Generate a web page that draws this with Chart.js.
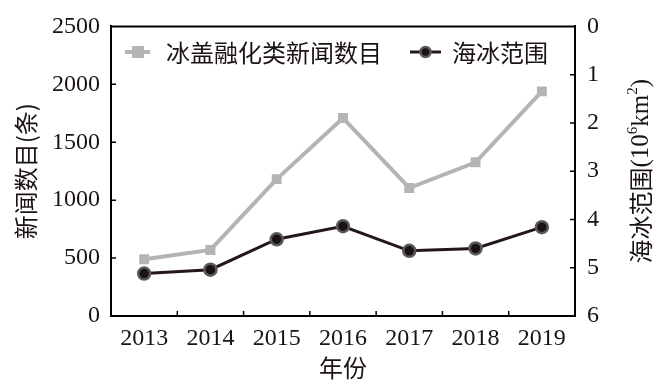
<!DOCTYPE html>
<html><head><meta charset="utf-8">
<script src="https://cdn.jsdelivr.net/npm/chart.js@4/dist/chart.umd.min.js"></script>
<style>html,body{margin:0;padding:0;background:#fff}#wrap{width:666px;height:388px}</style>
</head><body><div id="wrap"><canvas id="c" width="666" height="388"></canvas></div>
<script>
const years = ['2013','2014','2015','2016','2017','2018','2019'];
const newsCounts = [490, 570, 1182, 1709, 1105, 1327, 1939];
const seaIceExtent = [5.12, 5.04, 4.41, 4.14, 4.65, 4.60, 4.16];
const leftTicks = [0, 500, 1000, 1500, 2000, 2500];
const rightTicks = [0, 1, 2, 3, 4, 5, 6];
const newsLabel = '冰盖融化类新闻数目';
const iceLabel = '海冰范围';
const leftTitle = '新闻数目(条)';
const xTitle = '年份';

const NUM_FONT = '"Liberation Serif", "Times New Roman", serif';
const CJK_FONT = '"Noto Sans CJK SC", "Noto Sans", sans-serif';
const GRAY = '#b4b4b4';
const DARK = '#231815';
const TXT = '#1a1311';

const decor = {
  id: 'decor',
  afterDraw(chart) {
    const ctx = chart.ctx, a = chart.chartArea;
    const x = chart.scales.x, yl = chart.scales.y, yr = chart.scales.y2;
    ctx.save();
    ctx.strokeStyle = '#000'; ctx.lineWidth = 2;
    ctx.beginPath(); ctx.moveTo(a.left, a.top); ctx.lineTo(a.right, a.top); ctx.stroke();
    ctx.lineWidth = 1.5;
    ctx.beginPath();
    leftTicks.forEach(v => { const p = yl.getPixelForValue(v); if (v>0 && v<2500) { ctx.moveTo(a.left, p); ctx.lineTo(a.left+5, p); } });
    rightTicks.forEach(v => { const p = yr.getPixelForValue(v); if (v>0 && v<6) { ctx.moveTo(a.right, p); ctx.lineTo(a.right-5, p); } });
    for (let i = 1; i < years.length; i++) {
      const p = (x.getPixelForValue(i-1) + x.getPixelForValue(i)) / 2;
      ctx.moveTo(p, a.bottom); ctx.lineTo(p, a.bottom-5);
    }
    ctx.stroke();
    const ds0 = chart.data.datasets[0], ds1 = chart.data.datasets[1];
    ctx.font = '24px ' + CJK_FONT; ctx.textBaseline = 'middle'; ctx.textAlign = 'left';
    const ly = 52;
    ctx.strokeStyle = ds0.borderColor; ctx.lineWidth = 4;
    ctx.beginPath(); ctx.moveTo(125, ly); ctx.lineTo(150, ly); ctx.stroke();
    ctx.fillStyle = ds0.pointBackgroundColor; ctx.fillRect(132, ly-6, 12, 12);
    ctx.fillStyle = TXT; ctx.fillText(newsLabel, 166, ly+1);
    ctx.strokeStyle = ds1.borderColor; ctx.lineWidth = 3;
    ctx.beginPath(); ctx.moveTo(410, ly); ctx.lineTo(441, ly); ctx.stroke();
    ctx.beginPath(); ctx.arc(425.5, ly, 5, 0, Math.PI*2); ctx.fillStyle = ds1.pointBackgroundColor; ctx.fill();
    ctx.lineWidth = 2.5; ctx.strokeStyle = ds1.pointBorderColor; ctx.stroke();
    ctx.fillStyle = TXT; ctx.fillText(iceLabel, 452, ly+1);
    const cy = (a.top + a.bottom) / 2;
    ctx.save(); ctx.translate(26, cy); ctx.rotate(-Math.PI/2);
    ctx.textAlign = 'center'; ctx.font = '24px ' + CJK_FONT; ctx.fillText(leftTitle, 0, 0);
    ctx.restore();
    const parts = [
      {t: '海冰范围', f: '24px ' + CJK_FONT, dy: 0},
      {t: '(10', f: '25px ' + NUM_FONT, dy: 0},
      {t: '6', f: '15px ' + NUM_FONT, dy: -8},
      {t: 'km', f: '25px ' + NUM_FONT, dy: 0},
      {t: '2', f: '15px ' + NUM_FONT, dy: -8},
      {t: ')', f: '25px ' + NUM_FONT, dy: 0}
    ];
    let total = 0;
    parts.forEach(p => { ctx.font = p.f; p.w = ctx.measureText(p.t).width; total += p.w; });
    ctx.save(); ctx.translate(641, cy); ctx.rotate(-Math.PI/2);
    ctx.textAlign = 'left'; ctx.textBaseline = 'middle';
    let px = -total/2;
    parts.forEach(p => { ctx.font = p.f; ctx.fillText(p.t, px, p.dy); px += p.w; });
    ctx.restore();
    ctx.textAlign = 'center'; ctx.font = '24px ' + CJK_FONT;
    ctx.fillText(xTitle, (a.left + a.right)/2, 368);
    ctx.restore();
  }
};

const plain = v => String(v);

new Chart(document.getElementById('c'), {
  type: 'line',
  data: {
    labels: years,
    datasets: [
      { label: newsLabel, data: newsCounts, yAxisID: 'y', borderColor: GRAY, backgroundColor: GRAY,
        borderWidth: 4, pointStyle: 'rect', pointRadius: 7, pointBackgroundColor: GRAY, pointBorderColor: GRAY,
        pointBorderWidth: 0, tension: 0 },
      { label: iceLabel, data: seaIceExtent, yAxisID: 'y2', borderColor: DARK, backgroundColor: DARK,
        borderWidth: 3, pointStyle: 'circle', pointRadius: 6, pointBackgroundColor: '#1a1311', pointBorderColor: '#5a5a5a',
        pointBorderWidth: 2.5, tension: 0 }
    ]
  },
  options: {
    responsive: false, animation: false, devicePixelRatio: 1,
    layout: { padding: { top: 22, left: 0, right: 0, bottom: 0 } },
    plugins: { legend: { display: false }, tooltip: { enabled: false } },
    scales: {
      x: {
        offset: true,
        grid: { display: false, drawTicks: false },
        border: { display: true, color: '#000', width: 2 },
        ticks: { color: TXT, font: { family: NUM_FONT, size: 24 }, padding: 8, maxRotation: 0, autoSkip: false },
        afterFit(s) { s.height = 72; }
      },
      y: {
        position: 'left', min: 0, max: 2500,
        afterBuildTicks(s) { s.ticks = leftTicks.map(v => ({ value: v })); },
        grid: { display: false, drawTicks: false },
        border: { display: true, color: '#000', width: 2 },
        ticks: { color: TXT, font: { family: NUM_FONT, size: 24 }, padding: 11, callback: plain },
        afterFit(s) { s.width = 111; }
      },
      y2: {
        position: 'right', min: 0, max: 6, reverse: true,
        afterBuildTicks(s) { s.ticks = rightTicks.map(v => ({ value: v })); },
        grid: { display: false, drawTicks: false },
        border: { display: true, color: '#000', width: 2 },
        ticks: { color: TXT, font: { family: NUM_FONT, size: 24 }, padding: 12, callback: plain },
        afterFit(s) { s.width = 91; }
      }
    }
  },
  plugins: [decor]
});
</script></body></html>
